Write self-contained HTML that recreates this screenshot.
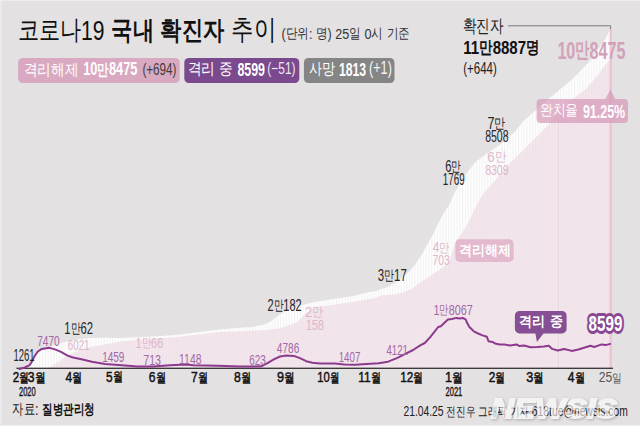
<!DOCTYPE html>
<html><head><meta charset="utf-8"><style>
html,body{margin:0;padding:0;background:#fff;}
svg{display:block;}
text{font-family:"Liberation Sans",sans-serif;}
</style></head><body>
<svg width="640" height="438" viewBox="0 0 640 438">
<rect x="0" y="0" width="640" height="425.5" fill="#e4e1e3"/><rect x="0" y="0" width="1.5" height="425.5" fill="#edecee"/><rect x="0" y="0" width="640" height="1" fill="#eeedee"/><defs><pattern id="st" x="0" y="0" width="2.8" height="10" patternUnits="userSpaceOnUse"><rect x="0" y="0" width="1.3" height="10" fill="#ecebed"/></pattern><pattern id="st2" x="0" y="0" width="2.8" height="10" patternUnits="userSpaceOnUse"><rect x="0" y="0" width="1.3" height="10" fill="#e9dce3"/></pattern></defs><path d="M19.0,368.5 L27.0,366.0 L34.0,357.0 L40.0,351.0 L47.0,347.5 L52.5,345.6 L65.0,341.9 L77.5,339.4 L90.0,338.1 L102.5,337.8 L120.0,337.9 L140.0,337.2 L169.7,335.6 L180.0,334.4 L197.0,332.2 L220.0,329.5 L240.0,327.8 L252.5,326.9 L262.5,325.0 L270.0,321.9 L277.5,316.3 L282.5,313.1 L290.0,309.0 L302.5,305.0 L315.0,301.9 L333.7,299.0 L352.5,296.2 L367.4,292.5 L375.0,291.3 L381.1,289.3 L389.3,286.3 L395.0,283.0 L400.0,279.5 L403.7,276.3 L409.8,271.0 L415.5,264.3 L421.2,255.5 L424.5,249.5 L429.1,241.5 L433.7,233.3 L438.3,223.2 L442.8,215.0 L446.0,209.5 L449.6,204.5 L452.3,197.6 L455.1,192.1 L458.5,186.0 L463.2,178.5 L468.7,170.5 L475.5,162.0 L486.5,153.8 L496.0,147.6 L507.0,139.5 L515.0,131.5 L524.0,120.5 L535.1,111.0 L547.9,99.5 L560.0,89.5 L570.0,81.2 L576.8,74.7 L583.7,67.5 L588.7,62.4 L594.1,55.1 L598.7,48.7 L603.3,42.4 L606.9,36.0 L610.6,28.5 L610.6,368.5 L19,368.5 Z" fill="#ffffff"/><path d="M19.0,368.5 L27.0,366.0 L34.0,357.0 L40.0,351.0 L47.0,347.5 L52.5,345.6 L65.0,341.9 L77.5,339.4 L90.0,338.1 L102.5,337.8 L120.0,337.9 L140.0,337.2 L169.7,335.6 L180.0,334.4 L197.0,332.2 L220.0,329.5 L240.0,327.8 L252.5,326.9 L262.5,325.0 L270.0,321.9 L277.5,316.3 L282.5,313.1 L290.0,309.0 L302.5,305.0 L315.0,301.9 L333.7,299.0 L352.5,296.2 L367.4,292.5 L375.0,291.3 L381.1,289.3 L389.3,286.3 L395.0,283.0 L400.0,279.5 L403.7,276.3 L409.8,271.0 L415.5,264.3 L421.2,255.5 L424.5,249.5 L429.1,241.5 L433.7,233.3 L438.3,223.2 L442.8,215.0 L446.0,209.5 L449.6,204.5 L452.3,197.6 L455.1,192.1 L458.5,186.0 L463.2,178.5 L468.7,170.5 L475.5,162.0 L486.5,153.8 L496.0,147.6 L507.0,139.5 L515.0,131.5 L524.0,120.5 L535.1,111.0 L547.9,99.5 L560.0,89.5 L570.0,81.2 L576.8,74.7 L583.7,67.5 L588.7,62.4 L594.1,55.1 L598.7,48.7 L603.3,42.4 L606.9,36.0 L610.6,28.5 L610.6,368.5 L19,368.5 Z" fill="url(#st)" opacity="0.6"/><path d="M47.5,368.0 L50.6,366.9 L59.0,361.2 L68.4,355.2 L77.8,350.5 L87.2,347.7 L105.0,344.6 L120.0,341.5 L180.0,336.8 L220.0,332.0 L240.0,331.3 L265.0,330.0 L277.5,328.8 L290.0,325.0 L297.5,321.9 L305.0,314.0 L315.0,307.0 L333.7,304.7 L352.5,301.9 L375.0,298.1 L381.1,295.5 L395.0,294.2 L400.7,293.1 L412.1,288.7 L420.0,282.5 L429.1,276.8 L438.3,270.5 L444.0,266.5 L449.0,261.0 L453.0,250.0 L456.3,240.5 L463.0,231.5 L468.5,222.0 L474.7,209.0 L480.0,198.5 L484.6,192.2 L494.8,180.8 L508.5,164.3 L514.2,159.1 L523.4,150.0 L537.8,135.5 L547.4,126.0 L554.0,118.0 L570.0,101.0 L585.8,89.0 L597.5,75.5 L604.4,66.1 L610.6,59.0 L610.6,368.5 L47.5,368.5 Z" fill="#f3e6ed"/><path d="M47.5,368.0 L50.6,366.9 L59.0,361.2 L68.4,355.2 L77.8,350.5 L87.2,347.7 L105.0,344.6 L120.0,341.5 L180.0,336.8 L220.0,332.0 L240.0,331.3 L265.0,330.0 L277.5,328.8 L290.0,325.0 L297.5,321.9 L305.0,314.0 L315.0,307.0 L333.7,304.7 L352.5,301.9 L375.0,298.1 L381.1,295.5 L395.0,294.2 L400.7,293.1 L412.1,288.7 L420.0,282.5 L429.1,276.8 L438.3,270.5 L444.0,266.5 L449.0,261.0 L453.0,250.0 L456.3,240.5 L463.0,231.5 L468.5,222.0 L474.7,209.0 L480.0,198.5 L484.6,192.2 L494.8,180.8 L508.5,164.3 L514.2,159.1 L523.4,150.0 L537.8,135.5 L547.4,126.0 L554.0,118.0 L570.0,101.0 L585.8,89.0 L597.5,75.5 L604.4,66.1 L610.6,59.0 L610.6,368.5 L47.5,368.5 Z" fill="url(#st2)" opacity="0.45"/><rect x="558" y="118" width="1" height="250" fill="#e9d6e0"/><rect x="609.6" y="28.5" width="2.2" height="340" fill="#eec0d4"/><rect x="16.5" y="367.7" width="596.5" height="1.1" fill="#111"/><path d="M19.4,369.0 L24.8,367.5 L29.5,365.1 L31.9,361.6 L34.2,356.8 L37.8,351.5 L41.4,349.1 L45.0,348.4 L48.8,347.7 L54.4,349.1 L61.0,351.9 L67.5,355.6 L73.1,357.5 L82.5,359.6 L91.9,361.7 L105.0,364.1 L121.9,365.3 L137.5,366.4 L153.1,366.6 L170.0,365.3 L185.6,364.5 L193.4,365.3 L216.9,365.8 L240.3,366.4 L255.0,366.6 L261.2,366.3 L267.5,363.1 L273.8,359.4 L280.0,356.5 L286.2,355.6 L293.8,355.9 L300.0,358.1 L306.2,361.2 L312.5,362.8 L320.0,363.5 L335.0,363.6 L344.4,364.4 L355.3,364.8 L366.2,364.1 L378.8,363.3 L388.1,361.7 L397.5,357.8 L405.3,353.9 L413.1,350.0 L420.2,345.3 L424.8,343.0 L430.0,337.4 L434.4,331.9 L438.2,327.0 L440.9,326.2 L444.2,323.1 L448.0,319.6 L451.9,319.0 L456.3,317.9 L459.5,318.5 L462.8,317.9 L465.6,319.3 L467.2,323.1 L469.4,327.0 L473.8,331.3 L477.0,333.0 L482.5,335.4 L486.9,336.8 L488.5,341.2 L492.4,341.9 L495.0,343.4 L499.7,344.4 L504.4,344.4 L510.0,345.5 L516.6,344.4 L519.4,346.1 L524.0,345.5 L530.6,347.2 L537.2,347.0 L543.7,346.4 L548.9,345.8 L552.2,348.9 L557.7,350.5 L564.2,349.0 L571.8,350.9 L578.3,349.5 L584.0,347.7 L590.5,345.8 L594.2,347.0 L601.7,344.4 L605.5,345.1 L610.2,343.9" fill="none" stroke="#8d3a8e" stroke-width="2.0" stroke-linejoin="round" stroke-linecap="round"/><path d="M508,25.8 H610.6 V29" fill="none" stroke="#7a7a7a" stroke-width="1"/><rect x="18.1" y="58" width="161.6" height="25" rx="4.5" fill="#d9a9c1"/><rect x="184.3" y="58" width="115" height="25" rx="4.5" fill="#7b4a8e"/><rect x="303.9" y="58" width="90.6" height="25" rx="4.5" fill="#858585"/><path d="M541,98.9 H605.4 L610.3,89.4 L615.2,98.9 H624 a4,4 0 0 1 4,4 V119 a4,4 0 0 1 -4,4 H540.6 a4,4 0 0 1 -4,-4 V102.9 a4,4 0 0 1 4,-4 Z" fill="#d597b6" fill-opacity="0.7"/><rect x="455.4" y="239.2" width="58.2" height="22.7" rx="4.5" fill="#e0b1c8" fill-opacity="0.85"/><path d="M519.4,310.9 H562.1 a4.5,4.5 0 0 1 4.5,4.5 V328.9 a4.5,4.5 0 0 1 -4.5,4.5 H543.5 L536.9,342 L535.4,333.4 H519.4 a4.5,4.5 0 0 1 -4.5,-4.5 V315.4 a4.5,4.5 0 0 1 4.5,-4.5 Z" fill="#864e93"/>
<text x="17.64" y="40.09" font-size="26.93" font-weight="normal" fill="#111" textLength="86.81" lengthAdjust="spacingAndGlyphs"><tspan font-size="26.93" dy="-0.81">코로나</tspan><tspan dy="0.81">19</tspan></text>
<text x="111.30" y="40.10" font-size="28.70" font-weight="bold" fill="#111" textLength="112.96" lengthAdjust="spacingAndGlyphs"><tspan font-size="25.68" dy="-1.43">국내</tspan><tspan dy="1.43"> </tspan><tspan font-size="25.68" dy="-1.43">확진자</tspan></text>
<text x="231.06" y="40.93" font-size="31.39" font-weight="normal" fill="#111" textLength="44.92" lengthAdjust="spacingAndGlyphs"><tspan font-size="28.09" dy="-1.57">추이</tspan></text>
<text x="281.53" y="38.61" font-size="15.19" font-weight="normal" fill="#333" textLength="128.22" lengthAdjust="spacingAndGlyphs"><tspan dy="0.00">(</tspan><tspan font-size="13.59" dy="-0.76">단위</tspan><tspan dy="0.76">: </tspan><tspan font-size="13.59" dy="-0.76">명</tspan><tspan dy="0.76">) 25</tspan><tspan font-size="13.59" dy="-0.76">일</tspan><tspan dy="0.76"> 0</tspan><tspan font-size="13.59" dy="-0.76">시</tspan><tspan dy="0.76"> </tspan><tspan font-size="13.59" dy="-0.76">기준</tspan></text>
<text x="23.81" y="76.13" font-size="18.06" font-weight="normal" fill="#fff" textLength="54.64" lengthAdjust="spacingAndGlyphs"><tspan font-size="16.16" dy="-0.90">격리해제</tspan></text>
<text x="83.24" y="75.43" font-size="17.96" font-weight="bold" fill="#fff" textLength="54.13" lengthAdjust="spacingAndGlyphs"><tspan dy="0.00">10</tspan><tspan font-size="16.07" dy="-0.90">만</tspan><tspan dy="0.90">8475</tspan></text>
<text x="142.42" y="74.51" font-size="16.78" font-weight="normal" fill="#3d3d3d" textLength="34.10" lengthAdjust="spacingAndGlyphs"><tspan dy="0.00">(+694)</tspan></text>
<text x="187.71" y="75.27" font-size="18.01" font-weight="normal" fill="#fff" textLength="45.42" lengthAdjust="spacingAndGlyphs"><tspan font-size="16.12" dy="-0.90">격리</tspan><tspan dy="0.90"> </tspan><tspan font-size="16.12" dy="-0.90">중</tspan></text>
<text x="237.38" y="76.00" font-size="19.05" font-weight="bold" fill="#fff" textLength="27.58" lengthAdjust="spacingAndGlyphs"><tspan dy="0.00">8599</tspan></text>
<text x="267.36" y="74.11" font-size="16.53" font-weight="normal" fill="#efe6f2" textLength="28.17" lengthAdjust="spacingAndGlyphs"><tspan dy="0.00">(−51)</tspan></text>
<text x="309.15" y="74.99" font-size="17.81" font-weight="normal" fill="#fff" textLength="26.31" lengthAdjust="spacingAndGlyphs"><tspan font-size="15.94" dy="-0.89">사망</tspan></text>
<text x="338.90" y="76.22" font-size="18.94" font-weight="bold" fill="#fff" textLength="27.21" lengthAdjust="spacingAndGlyphs"><tspan dy="0.00">1813</tspan></text>
<text x="368.94" y="74.20" font-size="17.74" font-weight="normal" fill="#f4f4f4" textLength="22.92" lengthAdjust="spacingAndGlyphs"><tspan dy="0.00">(+1)</tspan></text>
<text x="462.84" y="32.64" font-size="19.62" font-weight="normal" fill="#222" textLength="40.75" lengthAdjust="spacingAndGlyphs"><tspan font-size="17.56" dy="-0.98">확진자</tspan></text>
<text x="463.30" y="54.31" font-size="19.03" font-weight="bold" fill="#111" textLength="76.24" lengthAdjust="spacingAndGlyphs"><tspan dy="0.00">11</tspan><tspan font-size="17.04" dy="-0.95">만</tspan><tspan dy="0.95">8887</tspan><tspan font-size="17.04" dy="-0.95">명</tspan></text>
<text x="463.27" y="73.94" font-size="16.13" font-weight="normal" fill="#222" textLength="33.54" lengthAdjust="spacingAndGlyphs"><tspan dy="0.00">(+644)</tspan></text>
<text x="557.40" y="58.54" font-size="23.71" font-weight="bold" fill="#d2a2ba" textLength="68.05" lengthAdjust="spacingAndGlyphs"><tspan dy="0.00">10</tspan><tspan font-size="21.22" dy="-1.19">만</tspan><tspan dy="1.19">8475</tspan></text>
<text x="539.76" y="116.00" font-size="16.85" font-weight="normal" fill="#fff" textLength="38.55" lengthAdjust="spacingAndGlyphs"><tspan font-size="15.08" dy="-0.84">완치율</tspan></text>
<text x="582.95" y="117.66" font-size="17.64" font-weight="bold" fill="#fff" textLength="42.17" lengthAdjust="spacingAndGlyphs"><tspan dy="0.00">91.25%</tspan></text>
<text x="458.75" y="255.76" font-size="15.69" font-weight="bold" fill="#fff" textLength="52.06" lengthAdjust="spacingAndGlyphs"><tspan font-size="14.04" dy="-0.78">격리해제</tspan></text>
<text x="519.23" y="327.02" font-size="16.15" font-weight="bold" fill="#fff" textLength="43.41" lengthAdjust="spacingAndGlyphs"><tspan font-size="14.46" dy="-0.81">격리</tspan><tspan dy="0.81"> </tspan><tspan font-size="14.46" dy="-0.81">중</tspan></text>
<text x="588.60" y="330.92" font-size="22.69" font-weight="bold" fill="#fff" textLength="33.77" lengthAdjust="spacingAndGlyphs" stroke="#894892" stroke-width="6" paint-order="stroke" stroke-linejoin="round"><tspan dy="0.00">8599</tspan></text>
<text x="13.42" y="360.79" font-size="16.00" font-weight="normal" fill="#262626" textLength="21.10" lengthAdjust="spacingAndGlyphs"><tspan dy="0.00">1261</tspan></text>
<text x="64.31" y="334.45" font-size="16.00" font-weight="normal" fill="#262626" textLength="28.69" lengthAdjust="spacingAndGlyphs"><tspan dy="0.00">1</tspan><tspan font-size="13.60" dy="-0.96">만</tspan><tspan dy="0.96">62</tspan></text>
<text x="267.56" y="311.42" font-size="16.00" font-weight="normal" fill="#262626" textLength="34.16" lengthAdjust="spacingAndGlyphs"><tspan dy="0.00">2</tspan><tspan font-size="13.60" dy="-0.96">만</tspan><tspan dy="0.96">182</tspan></text>
<text x="377.63" y="281.13" font-size="16.00" font-weight="normal" fill="#262626" textLength="29.14" lengthAdjust="spacingAndGlyphs"><tspan dy="0.00">3</tspan><tspan font-size="13.60" dy="-0.96">만</tspan><tspan dy="0.96">17</tspan></text>
<text x="445.13" y="171.55" font-size="16.00" font-weight="normal" fill="#262626" textLength="15.98" lengthAdjust="spacingAndGlyphs"><tspan dy="0.00">6</tspan><tspan font-size="13.60" dy="-0.96">만</tspan></text>
<text x="442.78" y="184.97" font-size="16.00" font-weight="normal" fill="#262626" textLength="21.84" lengthAdjust="spacingAndGlyphs"><tspan dy="0.00">1769</tspan></text>
<text x="487.43" y="128.73" font-size="16.00" font-weight="normal" fill="#262626" textLength="18.06" lengthAdjust="spacingAndGlyphs"><tspan dy="0.00">7</tspan><tspan font-size="13.60" dy="-0.96">만</tspan></text>
<text x="485.24" y="142.21" font-size="16.00" font-weight="normal" fill="#262626" textLength="23.25" lengthAdjust="spacingAndGlyphs"><tspan dy="0.00">8508</tspan></text>
<text x="37.21" y="345.50" font-size="15.00" font-weight="normal" fill="#a268a6" textLength="22.51" lengthAdjust="spacingAndGlyphs"><tspan dy="0.00">7470</tspan></text>
<text x="102.15" y="362.40" font-size="15.00" font-weight="normal" fill="#a268a6" textLength="22.28" lengthAdjust="spacingAndGlyphs"><tspan dy="0.00">1459</tspan></text>
<text x="143.23" y="364.84" font-size="15.00" font-weight="normal" fill="#a268a6" textLength="17.79" lengthAdjust="spacingAndGlyphs"><tspan dy="0.00">713</tspan></text>
<text x="179.05" y="363.51" font-size="15.00" font-weight="normal" fill="#a268a6" textLength="22.44" lengthAdjust="spacingAndGlyphs"><tspan dy="0.00">1148</tspan></text>
<text x="249.25" y="364.86" font-size="15.00" font-weight="normal" fill="#a268a6" textLength="16.68" lengthAdjust="spacingAndGlyphs"><tspan dy="0.00">623</tspan></text>
<text x="276.75" y="352.84" font-size="15.00" font-weight="normal" fill="#a268a6" textLength="22.55" lengthAdjust="spacingAndGlyphs"><tspan dy="0.00">4786</tspan></text>
<text x="338.68" y="362.36" font-size="15.00" font-weight="normal" fill="#a268a6" textLength="21.64" lengthAdjust="spacingAndGlyphs"><tspan dy="0.00">1407</tspan></text>
<text x="386.40" y="354.65" font-size="15.00" font-weight="normal" fill="#a268a6" textLength="21.62" lengthAdjust="spacingAndGlyphs"><tspan dy="0.00">4121</tspan></text>
<text x="433.44" y="314.65" font-size="15.00" font-weight="normal" fill="#a268a6" textLength="39.37" lengthAdjust="spacingAndGlyphs"><tspan dy="0.00">1</tspan><tspan font-size="12.75" dy="-0.90">만</tspan><tspan dy="0.90">8067</tspan></text>
<text x="67.77" y="349.87" font-size="15.00" font-weight="normal" fill="#deb6cb" textLength="21.75" lengthAdjust="spacingAndGlyphs"><tspan dy="0.00">6021</tspan></text>
<text x="135.55" y="348.01" font-size="15.00" font-weight="normal" fill="#deb6cb" textLength="27.74" lengthAdjust="spacingAndGlyphs"><tspan dy="0.00">1</tspan><tspan font-size="12.75" dy="-0.90">만</tspan><tspan dy="0.90">66</tspan></text>
<text x="305.12" y="316.53" font-size="15.00" font-weight="normal" fill="#deb6cb" textLength="18.31" lengthAdjust="spacingAndGlyphs"><tspan dy="0.00">2</tspan><tspan font-size="12.75" dy="-0.90">만</tspan></text>
<text x="305.64" y="329.86" font-size="15.00" font-weight="normal" fill="#deb6cb" textLength="18.33" lengthAdjust="spacingAndGlyphs"><tspan dy="0.00">158</tspan></text>
<text x="432.86" y="252.43" font-size="15.00" font-weight="normal" fill="#deb6cb" textLength="16.84" lengthAdjust="spacingAndGlyphs"><tspan dy="0.00">4</tspan><tspan font-size="12.75" dy="-0.90">만</tspan></text>
<text x="432.60" y="265.42" font-size="15.00" font-weight="normal" fill="#deb6cb" textLength="17.21" lengthAdjust="spacingAndGlyphs"><tspan dy="0.00">703</tspan></text>
<text x="487.27" y="161.82" font-size="15.00" font-weight="normal" fill="#deb6cb" textLength="18.94" lengthAdjust="spacingAndGlyphs"><tspan dy="0.00">6</tspan><tspan font-size="12.75" dy="-0.90">만</tspan></text>
<text x="485.16" y="175.08" font-size="15.00" font-weight="normal" fill="#deb6cb" textLength="23.40" lengthAdjust="spacingAndGlyphs"><tspan dy="0.00">8309</tspan></text>
<text x="12.64" y="382.36" font-size="15.50" font-weight="normal" fill="#111" textLength="16.23" lengthAdjust="spacingAndGlyphs" stroke="#111" stroke-width="0.5"><tspan dy="0.00">2</tspan><tspan font-size="12.71" dy="-0.46">월</tspan></text>
<text x="27.59" y="382.48" font-size="15.50" font-weight="normal" fill="#111" textLength="17.78" lengthAdjust="spacingAndGlyphs" stroke="#111" stroke-width="0.5"><tspan dy="0.00">3</tspan><tspan font-size="12.71" dy="-0.46">월</tspan></text>
<text x="65.44" y="382.39" font-size="15.50" font-weight="normal" fill="#111" textLength="16.68" lengthAdjust="spacingAndGlyphs" stroke="#111" stroke-width="0.5"><tspan dy="0.00">4</tspan><tspan font-size="12.71" dy="-0.46">월</tspan></text>
<text x="106.07" y="381.90" font-size="15.50" font-weight="normal" fill="#111" textLength="16.54" lengthAdjust="spacingAndGlyphs" stroke="#111" stroke-width="0.5"><tspan dy="0.00">5</tspan><tspan font-size="12.71" dy="-0.46">월</tspan></text>
<text x="148.84" y="382.10" font-size="15.50" font-weight="normal" fill="#111" textLength="16.88" lengthAdjust="spacingAndGlyphs" stroke="#111" stroke-width="0.5"><tspan dy="0.00">6</tspan><tspan font-size="12.71" dy="-0.46">월</tspan></text>
<text x="190.99" y="382.42" font-size="15.50" font-weight="normal" fill="#111" textLength="16.76" lengthAdjust="spacingAndGlyphs" stroke="#111" stroke-width="0.5"><tspan dy="0.00">7</tspan><tspan font-size="12.71" dy="-0.46">월</tspan></text>
<text x="234.03" y="382.35" font-size="15.50" font-weight="normal" fill="#111" textLength="17.03" lengthAdjust="spacingAndGlyphs" stroke="#111" stroke-width="0.5"><tspan dy="0.00">8</tspan><tspan font-size="12.71" dy="-0.46">월</tspan></text>
<text x="277.03" y="382.34" font-size="15.50" font-weight="normal" fill="#111" textLength="17.65" lengthAdjust="spacingAndGlyphs" stroke="#111" stroke-width="0.5"><tspan dy="0.00">9</tspan><tspan font-size="12.71" dy="-0.46">월</tspan></text>
<text x="317.27" y="382.19" font-size="15.50" font-weight="normal" fill="#111" textLength="22.01" lengthAdjust="spacingAndGlyphs" stroke="#111" stroke-width="0.5"><tspan dy="0.00">10</tspan><tspan font-size="12.71" dy="-0.46">월</tspan></text>
<text x="358.35" y="382.24" font-size="15.50" font-weight="normal" fill="#111" textLength="22.48" lengthAdjust="spacingAndGlyphs" stroke="#111" stroke-width="0.5"><tspan dy="0.00">11</tspan><tspan font-size="12.71" dy="-0.46">월</tspan></text>
<text x="400.26" y="382.32" font-size="15.50" font-weight="normal" fill="#111" textLength="22.87" lengthAdjust="spacingAndGlyphs" stroke="#111" stroke-width="0.5"><tspan dy="0.00">12</tspan><tspan font-size="12.71" dy="-0.46">월</tspan></text>
<text x="444.97" y="382.19" font-size="15.50" font-weight="normal" fill="#111" textLength="17.80" lengthAdjust="spacingAndGlyphs" stroke="#111" stroke-width="0.5"><tspan dy="0.00">1</tspan><tspan font-size="12.71" dy="-0.46">월</tspan></text>
<text x="488.68" y="382.07" font-size="15.50" font-weight="normal" fill="#111" textLength="16.47" lengthAdjust="spacingAndGlyphs" stroke="#111" stroke-width="0.5"><tspan dy="0.00">2</tspan><tspan font-size="12.71" dy="-0.46">월</tspan></text>
<text x="526.33" y="382.16" font-size="15.50" font-weight="normal" fill="#111" textLength="17.59" lengthAdjust="spacingAndGlyphs" stroke="#111" stroke-width="0.5"><tspan dy="0.00">3</tspan><tspan font-size="12.71" dy="-0.46">월</tspan></text>
<text x="567.87" y="382.32" font-size="15.50" font-weight="normal" fill="#111" textLength="16.82" lengthAdjust="spacingAndGlyphs" stroke="#111" stroke-width="0.5"><tspan dy="0.00">4</tspan><tspan font-size="12.71" dy="-0.46">월</tspan></text>
<text x="598.70" y="382.38" font-size="15.00" font-weight="normal" fill="#555" textLength="23.21" lengthAdjust="spacingAndGlyphs"><tspan dy="0.00">25</tspan><tspan font-size="12.30" dy="-0.45">일</tspan></text>
<text x="18.99" y="395.86" font-size="12.00" font-weight="normal" fill="#111" textLength="16.63" lengthAdjust="spacingAndGlyphs" stroke="#111" stroke-width="0.35"><tspan dy="0.00">2020</tspan></text>
<text x="445.55" y="395.75" font-size="12.00" font-weight="normal" fill="#111" textLength="16.73" lengthAdjust="spacingAndGlyphs" stroke="#111" stroke-width="0.35"><tspan dy="0.00">2021</tspan></text>
<text x="12.34" y="415.08" font-size="16.70" font-weight="normal" fill="#222" textLength="26.17" lengthAdjust="spacingAndGlyphs"><tspan font-size="14.94" dy="-0.83">자료</tspan><tspan dy="0.83">:</tspan></text>
<text x="42.15" y="414.90" font-size="16.05" font-weight="bold" fill="#111" textLength="52.62" lengthAdjust="spacingAndGlyphs"><tspan font-size="14.37" dy="-0.80">질병관리청</tspan></text>
<text x="403.43" y="416.25" font-size="13.97" font-weight="normal" fill="#222" textLength="224.37" lengthAdjust="spacingAndGlyphs"><tspan dy="0.00">21.04.25 </tspan><tspan font-size="12.50" dy="-0.70">전진우</tspan><tspan dy="0.70"> </tspan><tspan font-size="12.50" dy="-0.70">그래픽</tspan><tspan dy="0.70"> </tspan><tspan font-size="12.50" dy="-0.70">기자</tspan><tspan dy="0.70"> 618tue@newsis.com</tspan></text>
<g style="filter:drop-shadow(1px 1.5px 1.5px rgba(0,0,0,0.4))" opacity="0.6"><text x="491" y="418.4" font-size="27.5" font-weight="bold" font-style="italic" fill="#ffffff" stroke="#ffffff" stroke-width="1.8" textLength="126" lengthAdjust="spacingAndGlyphs">NEWSIS</text></g>
</svg>
</body></html>
